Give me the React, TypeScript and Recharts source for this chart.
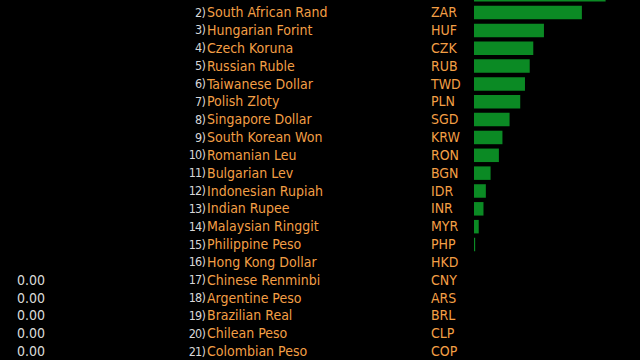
import { BarChart, Bar, XAxis, YAxis } from 'recharts'

const names = [
  'Mexican Peso',
  'South African Rand',
  'Hungarian Forint',
  'Czech Koruna',
  'Russian Ruble',
  'Taiwanese Dollar',
  'Polish Zloty',
  'Singapore Dollar',
  'South Korean Won',
  'Romanian Leu',
  'Bulgarian Lev',
  'Indonesian Rupiah',
  'Indian Rupee',
  'Malaysian Ringgit',
  'Philippine Peso',
  'Hong Kong Dollar',
  'Chinese Renminbi',
  'Argentine Peso',
  'Brazilian Real',
  'Chilean Peso',
  'Colombian Peso',
]
const codes = ['MXN', 'ZAR', 'HUF', 'CZK', 'RUB', 'TWD', 'PLN', 'SGD', 'KRW', 'RON', 'BGN', 'IDR', 'INR', 'MYR', 'PHP', 'HKD', 'CNY', 'ARS', 'BRL', 'CLP', 'COP']
// right column (gainers), null = blank
const gains: (number | null)[] = [1.11, 0.91, 0.59, 0.5, 0.47, 0.43, 0.39, 0.3, 0.24, 0.21, 0.14, 0.1, 0.08, 0.04, 0.01, 0.0, null, null, null, null, null]
// left column (losers), null = blank
const losses: (number | null)[] = [null, null, null, null, null, null, null, null, null, null, null, null, null, null, null, null, 0.0, 0.0, 0.0, 0.0, 0.0]

const data = names.map((name, i) => ({ name, code: codes[i], value: gains[i] ?? 0 }))

const ORANGE = '#f39f45'
const GREY = '#d8d8d8'
const FONT = "'DejaVu Sans Condensed', 'Liberation Sans', Arial, sans-serif"
const ROW = 17.84

// first row sits above the visible area, only its bar peeks in
function LeftTick({ y, payload, index }: { y?: number; payload?: { index?: number }; index?: number }) {
  const i = payload?.index ?? index ?? 0
  if (i === 0) return null
  const loss = losses[i]
  return (
    <g fontFamily={FONT} fontSize={14}>
      {loss != null && (
        <text x={45} y={y} dy={-0.6} textAnchor="end" dominantBaseline="central" fill={GREY}>
          {loss.toFixed(2)}
        </text>
      )}
      <text x={205} y={y} dy={-0.6} textAnchor="end" dominantBaseline="central" fill={GREY} fontSize={12.5} letterSpacing={-0.8}>
        {i + 1})
      </text>
      <text x={207} y={y} dy={-0.6} dominantBaseline="central" fill={ORANGE}>
        {names[i]}
      </text>
      <text x={431} y={y} dy={-0.6} dominantBaseline="central" fill={ORANGE}>
        {codes[i]}
      </text>
    </g>
  )
}

function RightTick({ y, payload, index }: { y?: number; payload?: { index?: number }; index?: number }) {
  const i = payload?.index ?? index ?? 0
  const g = gains[i]
  if (i === 0 || g == null) return null
  return (
    <text x={634} y={y} dy={-0.6} textAnchor="end" dominantBaseline="central" fill={GREY} fontFamily={FONT} fontSize={14}>
      {g.toFixed(2)}
    </text>
  )
}

export default function App() {
  return (
    <div style={{ position: 'fixed', top: 0, left: 0, width: 640, height: 360, overflow: 'hidden', background: '#000' }}>
      <div style={{ position: 'absolute', top: -14.3, left: 0 }}>
        <BarChart
          width={640}
          height={ROW * names.length}
          data={data}
          layout="vertical"
          margin={{ top: 0, right: 0, bottom: 0, left: 0 }}
          barSize={13.5}
        >
          <XAxis type="number" hide domain={[0, 1.4]} />
          <YAxis
            yAxisId="left"
            type="category"
            dataKey="name"
            width={474}
            axisLine={false}
            tickLine={false}
            interval={0}
            tick={<LeftTick />}
          />
          <YAxis
            yAxisId="right"
            orientation="right"
            type="category"
            dataKey="name"
            width={0}
            axisLine={false}
            tickLine={false}
            interval={0}
            tick={<RightTick />}
          />
          <Bar yAxisId="left" dataKey="value" fill="#0b8a24" isAnimationActive={false} />
        </BarChart>
      </div>
    </div>
  )
}
